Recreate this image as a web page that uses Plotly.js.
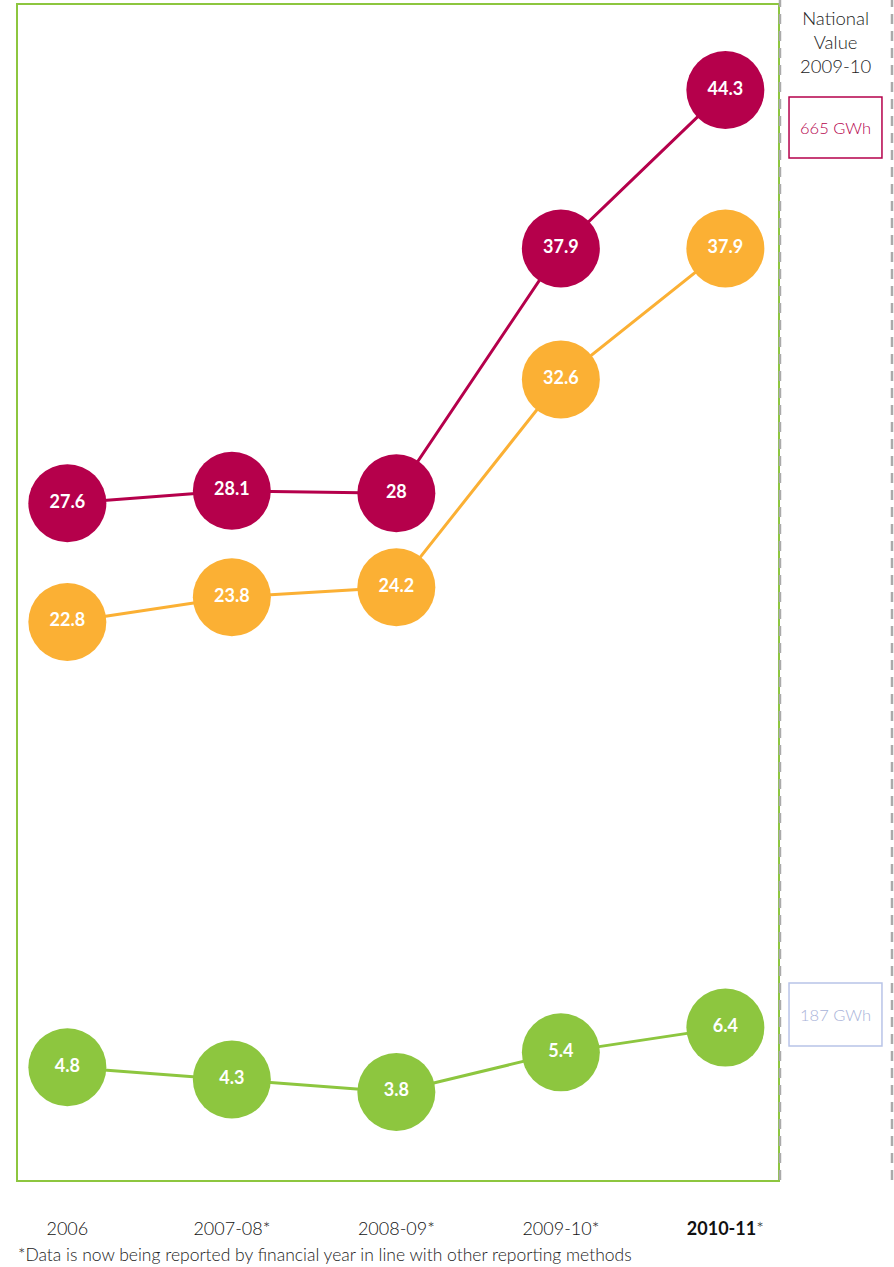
<!DOCTYPE html>
<html>
<head>
<meta charset="utf-8">
<script src="https://cdn.plot.ly/plotly-3.0.1.min.js"></script>
<style>
html,body{margin:0;padding:0;background:#fff;}
#chart{width:894px;height:1267px;}
</style>
</head>
<body>
<div id="chart"></div>
<script>
var categories = ["2006", "2007-08*", "2008-09*", "2009-10*", "2010-11*"];
var tickLabels = ["2006", "2007-08*", "2008-09*", "2009-10*", "<b>2010-11</b>*"];
var seriesMagenta = [27.6, 28.1, 28, 37.9, 44.3];
var seriesOrange = [22.8, 23.8, 24.2, 32.6, 37.9];
var seriesGreen = [4.8, 4.3, 3.8, 5.4, 6.4];
var nationalLabels = ["665 GWh", "187 GWh"];

var FONT = "Lato, 'Open Sans', sans-serif";

function series(vals, color) {
  return {
    x: categories,
    y: vals,
    type: "scatter",
    mode: "lines+markers+text",
    line: {color: color, width: 3},
    marker: {color: color, size: 78, line: {width: 0}},
    text: vals.map(function (v) { return "<b>" + v + "</b>"; }),
    textposition: "middle center",
    textfont: {color: "#ffffff", size: 18, family: FONT},
    hoverinfo: "skip",
    cliponaxis: false,
    showlegend: false
  };
}

var data = [
  series(seriesMagenta, "#b5004b"),
  series(seriesOrange, "#fbb034"),
  series(seriesGreen, "#8dc63f")
];

var layout = {
  width: 894,
  height: 1267,
  margin: {l: 18, r: 116, t: 5, b: 87},
  paper_bgcolor: "#ffffff",
  plot_bgcolor: "#ffffff",
  font: {family: FONT, color: "#222"},
  xaxis: {
    type: "category",
    range: [-0.3, 4.32],
    tickvals: categories,
    ticktext: tickLabels,
    ticks: "",
    showgrid: false,
    zeroline: false,
    showline: true,
    mirror: true,
    linecolor: "#8dc63f",
    linewidth: 2,
    ticklabelstandoff: 31,
    tickfont: {size: 18, color: "#111", family: FONT, weight: 300},
    fixedrange: true
  },
  yaxis: {
    range: [0.24, 47.74],
    showticklabels: false,
    ticks: "",
    showgrid: false,
    zeroline: false,
    showline: true,
    mirror: true,
    linecolor: "#8dc63f",
    linewidth: 2,
    fixedrange: true
  },
  shapes: [
    {type: "line", xref: "paper", yref: "paper", x0: 1.0026, x1: 1.0026, y0: 0, y1: 1.0043,
     line: {color: "#aaaaaa", width: 2.5, dash: "10px,7px"}},
    {type: "line", xref: "paper", yref: "paper", x0: 1.15, x1: 1.15, y0: 0, y1: 1.0043,
     line: {color: "#aaaaaa", width: 2.5, dash: "10px,7px"}},
    {type: "rect", xref: "paper", yref: "paper", x0: 1.0145, x1: 1.1368, y0: 0.8698, y1: 0.9217,
     line: {color: "#b5004b", width: 1.5}, fillcolor: "rgba(0,0,0,0)"},
    {type: "rect", xref: "paper", yref: "paper", x0: 1.0145, x1: 1.1368, y0: 0.114, y1: 0.1677,
     line: {color: "#b8c4e8", width: 1.5}, fillcolor: "rgba(0,0,0,0)"}
  ],
  annotations: [
    {xref: "paper", yref: "paper", x: 1.0763, y: 1.0, xanchor: "center", yanchor: "top",
     text: "National<br>Value<br>2009-10", showarrow: false, align: "center",
     font: {size: 18.5, color: "#222", family: FONT, weight: 300}},
    {xref: "paper", yref: "paper", x: 1.0757, y: 0.8957, xanchor: "center", yanchor: "middle",
     text: nationalLabels[0], showarrow: false,
     font: {size: 16.5, color: "#b5004b", family: FONT, weight: 300}},
    {xref: "paper", yref: "paper", x: 1.0757, y: 0.1408, xanchor: "center", yanchor: "middle",
     text: nationalLabels[1], showarrow: false,
     font: {size: 16.5, color: "#a8b2d8", family: FONT, weight: 300}},
    {xref: "paper", yref: "paper", x: -0.003, y: -0.0638, xanchor: "left", yanchor: "middle",
     text: "*Data is now being reported by financial year in line with other reporting methods",
     showarrow: false, font: {size: 17.5, color: "#222", family: FONT, weight: 300}}
  ]
};

Plotly.newPlot("chart", data, layout, {displayModeBar: false, staticPlot: true});
</script>
</body>
</html>
